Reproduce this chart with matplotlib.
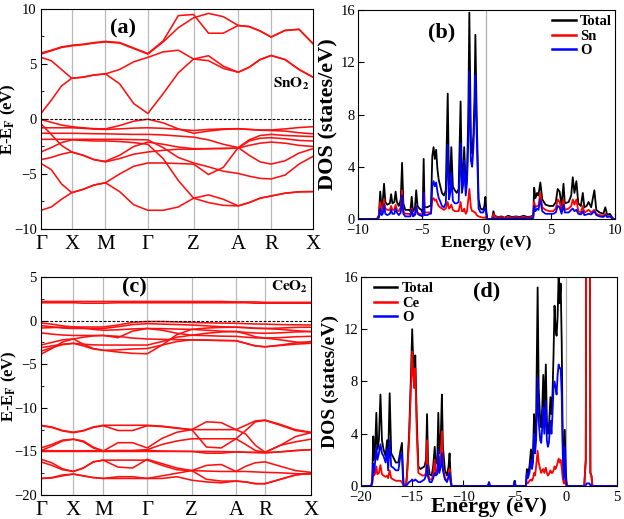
import numpy as np
import matplotlib
matplotlib.use("Agg")
import matplotlib.pyplot as plt

plt.rcParams["font.family"] = ["Liberation Serif", "DejaVu Serif"]
plt.rcParams["mathtext.fontset"] = "stix"
plt.rcParams["xtick.direction"] = "in"
plt.rcParams["ytick.direction"] = "in"

# ---------------- band structure data ----------------
# k-path labels and positions (fraction of path length)
klabels = ["Γ", "X", "M", "Γ", "Z", "A", "R", "X"]
kpos_sno2 = [0.0, 0.113, 0.237, 0.393, 0.561, 0.725, 0.846, 1.0]
kpos_ceo2 = [0.0, 0.120, 0.231, 0.394, 0.559, 0.723, 0.831, 1.0]

# energies at Γ,1/3,2/3,X,1/3,2/3,M,... (22 nodes along the path)
sno2_bands = [
    # conduction
    [0.5, 1.7, 3.0, 3.7, 3.8, 4.0, 4.1, 3.2, 1.4, 0.5, 2.3, 4.2, 5.45, 5.3, 4.6, 4.25, 4.7, 5.4, 5.77, 5.4, 4.5, 3.8],
    [5.6, 5.3, 4.5, 3.7, 3.8, 4.0, 4.1, 4.5, 5.2, 5.6, 6.1, 6.25, 5.45, 5.75, 4.8, 4.25, 4.7, 5.4, 5.77, 5.4, 4.5, 3.8],
    [5.9, 6.2, 6.5, 6.65, 6.75, 6.9, 7.0, 6.9, 6.4, 5.9, 7.0, 8.3, 9.2, 9.6, 9.3, 8.5, 8.4, 8.0, 7.45, 8.05, 8.15, 6.85],
    [6.0, 6.25, 6.55, 6.7, 6.8, 6.95, 7.05, 6.95, 6.45, 5.95, 7.1, 9.4, 9.5, 7.8, 7.8, 8.5, 8.4, 8.0, 7.45, 8.05, 8.15, 6.85],
    # valence
    [-0.05, -0.3, -0.55, -0.7, -0.8, -0.88, -0.9, -0.6, -0.2, -0.02, -0.35, -0.9, -1.3, -1.1, -0.95, -0.9, -0.95, -1.0, -1.0, -0.9, -0.78, -0.7],
    [-0.8, -0.8, -0.8, -0.8, -0.85, -0.92, -0.95, -0.9, -0.83, -0.8, -0.85, -0.95, -1.05, -0.95, -0.9, -0.88, -0.95, -1.02, -1.05, -1.1, -1.25, -1.35],
    [-1.3, -1.3, -1.3, -1.3, -1.32, -1.34, -1.35, -1.38, -1.4, -1.4, -1.45, -1.55, -1.65, -1.9, -2.3, -2.6, -3.3, -3.9, -4.1, -3.8, -3.1, -2.7],
    [-0.45, -1.4, -2.4, -3.0, -3.3, -3.7, -3.85, -3.3, -2.5, -2.1, -2.3, -2.55, -2.7, -2.7, -2.68, -2.65, -2.4, -2.2, -2.1, -2.2, -2.4, -2.5],
    [-1.85, -1.85, -1.85, -1.85, -1.85, -1.85, -1.85, -1.85, -1.88, -1.9, -2.6, -3.5, -4.0, -4.35, -4.75, -4.95, -5.2, -5.4, -5.45, -5.1, -4.1, -3.4],
    [-3.0, -2.6, -2.15, -1.9, -1.95, -2.0, -2.0, -2.05, -2.15, -2.3, -3.6, -5.6, -7.2, -6.9, -7.3, -7.9, -7.6, -7.2, -7.0, -6.75, -6.62, -6.6],
    [-3.7, -3.5, -3.2, -3.0, -3.3, -3.7, -3.9, -3.6, -3.2, -3.0, -2.85, -2.75, -2.75, -2.7, -2.68, -2.65, -2.0, -1.75, -1.7, -1.8, -1.95, -2.0],
    [-4.05, -4.6, -5.9, -6.7, -6.4, -6.0, -5.8, -5.0, -4.3, -4.0, -4.0, -4.05, -4.1, -5.05, -4.4, -2.6, -1.9, -1.5, -1.4, -1.5, -1.55, -1.6],
    [-8.3, -8.0, -7.3, -6.7, -6.4, -6.0, -5.8, -6.6, -7.8, -8.3, -8.3, -8.0, -7.2, -7.6, -7.85, -7.9, -7.6, -7.2, -7.0, -6.75, -6.62, -6.6],
]

ceo2_bands = [
    # Ce 4f
    [2.2, 2.2, 2.2, 2.2, 2.2, 2.2, 2.2, 2.2, 2.2, 2.2, 2.2, 2.2, 2.2, 2.2, 2.2, 2.15, 2.15, 2.15, 2.1, 2.1, 2.1, 2.1],
    [2.05, 2.05, 2.05, 2.05, 2.0, 2.0, 2.0, 2.05, 2.05, 2.05, 2.05, 2.05, 2.05, 2.05, 2.05, 2.05, 2.05, 2.0, 2.0, 2.0, 2.0, 2.0],
    # O 2p
    [-0.27, -0.4, -0.6, -0.73, -0.73, -0.73, -0.73, -0.5, -0.2, -0.1, -0.1, -0.15, -0.2, -0.25, -0.28, -0.3, -0.35, -0.38, -0.4, -0.45, -0.48, -0.5],
    [-0.57, -0.7, -0.85, -0.9, -0.9, -0.9, -0.9, -0.7, -0.45, -0.35, -0.4, -0.45, -0.5, -0.6, -0.7, -0.75, -0.8, -0.88, -0.9, -0.85, -0.78, -0.75],
    [-0.84, -0.8, -0.75, -0.73, -0.85, -1.0, -1.1, -1.05, -0.95, -0.9, -0.92, -0.97, -1.0, -1.1, -1.2, -1.25, -1.35, -1.42, -1.45, -1.4, -1.3, -1.25],
    [-1.4, -1.55, -1.65, -1.7, -1.7, -1.7, -1.7, -1.95, -1.2, -0.9, -1.1, -1.45, -1.67, -1.72, -1.78, -1.8, -1.9, -1.97, -2.0, -1.95, -1.85, -1.8],
    [-2.8, -2.5, -2.2, -2.1, -1.9, -1.75, -1.7, -1.8, -2.0, -2.1, -2.15, -2.18, -2.2, -2.25, -2.28, -2.3, -2.6, -2.9, -3.0, -2.8, -2.55, -2.4],
    [-3.1, -2.9, -2.7, -2.6, -2.7, -2.78, -2.8, -2.8, -2.8, -2.8, -2.4, -1.9, -1.67, -1.45, -1.3, -1.25, -1.5, -1.85, -2.0, -2.2, -2.45, -2.6],
    [-3.5, -3.1, -2.75, -2.6, -2.9, -3.25, -3.4, -3.35, -3.25, -3.2, -2.8, -2.4, -2.2, -2.22, -2.27, -2.3, -2.6, -2.9, -3.0, -2.85, -2.7, -2.6],
    [-3.85, -3.2, -2.45, -2.1, -2.7, -3.2, -3.4, -3.6, -3.75, -3.8, -2.8, -1.6, -1.0, -0.85, -0.78, -0.75, -0.8, -0.87, -0.9, -1.0, -1.15, -1.25],
    # semicore
    [-12.0, -12.2, -12.6, -12.8, -12.6, -12.2, -12.0, -12.0, -12.0, -12.0, -12.1, -12.3, -12.5, -12.5, -12.5, -12.5, -12.0, -11.5, -11.4, -11.9, -12.5, -12.8],
    [-12.05, -12.25, -12.65, -12.85, -12.65, -12.25, -12.05, -12.6, -12.6, -12.05, -12.15, -12.35, -12.5, -11.6, -11.7, -12.5, -13.0, -14.3, -15.1, -14.3, -13.3, -12.85],
    [-14.6, -14.2, -13.7, -13.6, -13.8, -14.5, -14.95, -14.0, -14.0, -14.6, -13.5, -12.8, -12.5, -14.5, -14.6, -13.55, -12.6, -11.6, -11.45, -12.0, -12.6, -12.85],
    [-14.9, -14.4, -13.8, -13.6, -13.9, -14.6, -14.95, -14.9, -14.9, -14.8, -14.2, -13.8, -13.55, -13.55, -13.55, -13.55, -14.2, -14.9, -15.1, -14.3, -13.9, -13.6],
    [-15.0, -15.0, -15.0, -15.0, -15.0, -15.0, -15.0, -15.0, -15.0, -15.0, -15.0, -15.0, -15.0, -15.0, -15.02, -15.05, -15.1, -15.12, -15.15, -15.05, -14.9, -14.8],
    [-14.9, -14.92, -14.92, -14.92, -14.92, -14.92, -14.92, -14.92, -14.92, -14.9, -14.95, -14.98, -15.0, -15.2, -15.2, -15.05, -15.1, -15.12, -15.15, -15.05, -14.9, -14.8],
    [-15.9, -16.3, -17.0, -17.3, -16.9, -16.2, -16.0, -16.0, -16.0, -16.0, -16.6, -17.1, -17.2, -16.6, -16.5, -17.3, -16.7, -16.3, -16.2, -16.7, -17.2, -17.4],
    [-16.2, -16.6, -17.1, -17.3, -16.9, -16.2, -16.0, -16.8, -16.9, -15.9, -16.4, -16.9, -17.2, -17.25, -17.3, -17.3, -17.3, -17.35, -17.4, -17.45, -17.55, -17.6],
    [-18.1, -18.0, -17.7, -17.6, -17.8, -18.0, -18.1, -17.9, -17.9, -18.1, -18.1, -17.9, -18.3, -18.5, -18.6, -18.4, -18.5, -18.7, -18.7, -18.2, -17.7, -17.5],
    [-18.1, -18.05, -17.8, -17.6, -17.8, -18.0, -18.1, -18.1, -18.1, -18.1, -17.8, -17.5, -17.2, -18.2, -18.4, -18.4, -18.5, -18.7, -18.7, -18.2, -17.7, -17.5],
]

# ---------------- DOS data ----------------
e_sno2 = [-10.0, -8.5, -8.35, -8.25, -8.15, -8.05, -7.95, -7.85, -7.7, -7.5, -7.4, -7.3, -7.15, -7.05, -6.95,
          -6.8, -6.65, -6.55, -6.45, -6.3, -6.0, -5.9, -5.8, -5.7, -5.55, -5.45, -5.35, -5.2, -5.05, -4.95,
          -4.87, -4.8, -4.6, -4.4, -4.3, -4.2, -4.1, -4.0, -3.9, -3.8, -3.7, -3.6, -3.45, -3.3, -3.15,
          -3.0, -2.9, -2.8, -2.72, -2.6, -2.45, -2.3, -2.15, -2.0, -1.9, -1.8, -1.72, -1.6, -1.5, -1.4,
          -1.32, -1.2, -1.1, -1.0, -0.92, -0.85, -0.75, -0.6, -0.45, -0.25, -0.15, -0.07, 0.0, 0.08, 0.45,
          0.55, 0.65, 0.9, 1.2, 1.4, 1.7, 2.0, 2.3, 2.6, 2.9, 3.2, 3.5, 3.65, 3.72, 3.82,
          3.95, 4.05, 4.2, 4.35, 4.6, 4.9, 5.2, 5.4, 5.55, 5.7, 5.85, 6.0, 6.1, 6.4, 6.6,
          6.72, 6.85, 7.0, 7.15, 7.35, 7.5, 7.62, 7.8, 7.95, 8.15, 8.4, 8.55, 8.8, 9.1, 9.25,
          9.4, 9.6, 9.8, 9.9, 10.0]
tot_sno2 = [0, 0, 0.3, 2.1, 1.0, 1.4, 2.7, 1.3, 1.1, 1.2, 1.9, 1.2, 1.3, 2.1, 1.3,
            1.0, 1.5, 4.3, 1.2, 0.7, 0.7, 0.6, 1.7, 0.6, 0.8, 2.2, 1.0, 0.8, 0.7, 0.5,
            4.6, 0.9, 0.9, 1.0, 1.0, 4.8, 5.5, 4.6, 5.3, 3.8, 3.0, 2.6, 2.0, 1.8, 2.2,
            9.6, 2.6, 3.4, 5.5, 2.5, 2.2, 2.0, 2.3, 9.0, 2.8, 3.5, 5.5, 2.5, 3.5, 8.0,
            15.8, 6.0, 5.0, 6.5, 9.0, 14.1, 8.0, 1.5, 0.8, 0.7, 1.0, 1.7, 0.6, 0, 0,
            0.6, 0.25, 0.15, 0.2, 0.1, 0.25, 0.15, 0.2, 0.15, 0.25, 0.15, 0.2, 0.3, 2.4, 1.6,
            2.0, 1.8, 2.8, 1.5, 1.1, 1.0, 1.0, 1.3, 2.3, 2.1, 1.0, 2.7, 1.2, 1.3, 1.8,
            3.2, 2.0, 2.9, 1.2, 1.0, 2.0, 0.9, 1.0, 1.3, 0.9, 2.2, 0.7, 0.5, 0.4, 0.9,
            0.3, 0.4, 0.1, 0, 0]
sn_sno2 = [0, 0, 0.2, 1.3, 0.6, 0.9, 1.5, 0.8, 0.7, 0.7, 1.0, 0.7, 0.7, 1.1, 0.7,
           0.6, 0.9, 2.2, 0.6, 0.4, 0.4, 0.35, 0.8, 0.3, 0.4, 1.0, 0.5, 0.4, 0.35, 0.3,
           2.0, 0.5, 0.5, 0.5, 0.5, 1.5, 1.6, 1.4, 1.5, 1.2, 1.0, 0.9, 0.8, 0.7, 0.8,
           1.3, 0.8, 0.9, 1.1, 0.7, 0.6, 0.6, 0.6, 1.3, 0.6, 0.6, 0.8, 0.4, 0.6, 1.5,
           2.3, 0.9, 0.6, 0.6, 0.5, 0.5, 0.3, 0.2, 0.15, 0.1, 0.1, 0.15, 0.05, 0, 0,
           0.4, 0.2, 0.12, 0.15, 0.08, 0.18, 0.1, 0.15, 0.1, 0.17, 0.1, 0.15, 0.2, 1.3, 0.9,
           1.0, 1.0, 2.0, 0.9, 0.7, 0.6, 0.6, 0.8, 1.5, 1.3, 0.6, 1.5, 0.7, 0.8, 1.0,
           1.5, 1.1, 1.5, 0.6, 0.5, 1.0, 0.5, 0.6, 0.7, 0.5, 0.7, 0.4, 0.3, 0.25, 0.4,
           0.2, 0.2, 0.05, 0, 0]
o_sno2 = [0, 0, 0.1, 0.8, 0.3, 0.4, 1.1, 0.4, 0.3, 0.4, 0.7, 0.4, 0.4, 0.8, 0.5,
          0.3, 0.5, 1.8, 0.4, 0.2, 0.2, 0.2, 0.7, 0.2, 0.3, 1.0, 0.4, 0.3, 0.25, 0.2,
          2.0, 0.3, 0.3, 0.4, 0.4, 2.5, 2.9, 2.5, 2.8, 2.1, 1.6, 1.4, 1.0, 0.9, 1.2,
          5.7, 1.5, 2.0, 3.5, 1.4, 1.2, 1.2, 1.3, 5.8, 2.0, 2.6, 4.5, 1.8, 2.8, 6.0,
          11.3, 4.5, 4.0, 5.5, 8.0, 11.0, 6.5, 0.8, 0.5, 0.5, 0.7, 0.9, 0.3, 0, 0,
          0.1, 0.05, 0.03, 0.05, 0.02, 0.05, 0.04, 0.05, 0.04, 0.06, 0.04, 0.05, 0.07, 1.0, 0.6,
          0.8, 0.7, 1.5, 0.6, 0.4, 0.4, 0.4, 0.5, 1.0, 0.9, 0.4, 1.1, 0.5, 0.5, 0.7,
          0.8, 0.6, 0.7, 0.4, 0.35, 0.6, 0.3, 0.35, 0.4, 0.35, 0.6, 0.3, 0.2, 0.15, 0.3,
          0.15, 0.2, 0.05, 0, 0]

e_ceo2 = [-20.0, -19.0, -18.9, -18.8, -18.72, -18.6, -18.5, -18.4, -18.25, -18.1, -17.95, -17.8, -17.6, -17.45, -17.35,
          -17.2, -17.05, -16.85, -16.6, -16.35, -16.15, -16.0, -15.9, -15.82, -15.6, -15.5, -15.3, -15.1, -15.0, -14.9,
          -14.8, -14.7, -14.55, -14.4, -14.2, -14.0, -13.8, -13.65, -13.55, -13.45, -13.3, -13.1, -12.95, -12.8, -12.7,
          -12.55, -12.45, -12.35, -12.2, -12.1, -12.0, -11.8, -11.6, -11.45, -11.35, -11.25, -11.15, -7.6, -7.5, -7.4,
          -5.1, -5.0, -4.9, -3.9, -3.8, -3.7, -3.55, -3.4, -3.3, -3.2, -3.1, -3.0, -2.9, -2.75, -2.65,
          -2.5, -2.4, -2.3, -2.2, -2.1, -1.95, -1.85, -1.75, -1.65, -1.5, -1.4, -1.3, -1.2, -1.1, -1.0,
          -0.9, -0.8, -0.7, -0.6, -0.5, -0.4, -0.3, -0.2, -0.1, 0.0, 0.1, 1.8, 1.95, 2.05, 2.3,
          2.4, 2.5, 2.6, 5.0]
tot_ceo2 = [0, 0, 0.5, 3.8, 2.0, 3.2, 5.6, 2.8, 3.5, 7.0, 3.5, 2.8, 2.3, 3.5, 2.0,
            7.1, 2.5, 2.2, 1.8, 1.8, 2.7, 3.3, 1.0, 0, 0, 1.0, 4.0, 9.0, 12.0, 9.5,
            8.0, 10.0, 5.0, 1.5, 1.3, 1.4, 1.5, 2.0, 5.5, 1.8, 0.9, 0.8, 1.5, 3.0, 1.7,
            2.0, 5.6, 2.5, 4.0, 7.0, 3.0, 1.2, 0.8, 1.5, 2.5, 0.8, 0, 0, 0.3, 0,
            0, 0.4, 0, 0, 1.3, 0.8, 1.5, 2.8, 1.8, 2.5, 5.5, 3.5, 5.0, 15.2, 7.5,
            5.0, 4.5, 6.0, 8.5, 5.5, 9.3, 5.0, 4.0, 4.5, 6.8, 5.5, 7.0, 10.0, 13.8, 12.0,
            11.5, 13.0, 16.2, 14.0, 15.5, 11.0, 3.5, 0.8, 4.3, 1.0, 0, 0, 2.0, 40, 40,
            1.0, 0.8, 0, 0]
ce_ceo2 = [0, 0, 0.2, 1.0, 0.8, 1.0, 1.5, 0.9, 1.0, 1.6, 0.9, 0.8, 0.7, 0.8, 0.6,
           1.2, 0.6, 0.5, 0.4, 0.4, 0.4, 0.3, 0.1, 0, 0, 0.8, 3.5, 8.0, 10.3, 8.5,
           7.5, 9.0, 4.0, 1.0, 0.9, 0.8, 0.8, 1.0, 3.5, 0.9, 0.5, 0.5, 0.8, 2.0, 0.9,
           1.2, 2.3, 1.5, 2.5, 4.2, 1.5, 0.6, 0.4, 0.7, 1.3, 0.4, 0, 0, 0.05, 0,
           0, 0.05, 0, 0, 0.3, 0.2, 0.4, 0.5, 0.4, 0.6, 1.0, 0.8, 1.5, 2.7, 1.8,
           1.3, 1.0, 1.2, 1.3, 1.0, 1.4, 1.0, 0.8, 0.9, 1.2, 1.0, 1.0, 1.2, 1.5, 1.3,
           1.5, 1.8, 2.1, 1.8, 2.0, 1.4, 0.6, 0.2, 0.4, 0.1, 0, 0, 2.0, 40, 40,
           1.0, 0.8, 0, 0]
o_ceo2 = [0, 0, 0.3, 1.7, 1.0, 2.0, 3.0, 2.0, 2.5, 3.2, 2.5, 2.3, 1.8, 2.8, 1.2,
          3.5, 1.5, 1.4, 1.2, 1.2, 2.3, 2.5, 0.5, 0, 0, 0.1, 0.3, 0.4, 0.5, 0.4,
          0.4, 0.5, 0.4, 0.3, 0.3, 0.4, 0.5, 0.8, 1.6, 0.7, 0.3, 0.3, 0.6, 1.0, 0.8,
          0.9, 2.8, 1.0, 1.5, 2.5, 1.2, 0.5, 0.3, 0.7, 1.0, 0.3, 0, 0, 0.25, 0,
          0, 0.35, 0, 0, 1.0, 0.6, 1.0, 2.0, 1.3, 1.8, 4.0, 2.5, 3.5, 8.3, 5.0,
          3.5, 3.3, 4.5, 6.0, 4.0, 6.5, 3.5, 3.0, 3.3, 5.0, 4.0, 5.5, 7.5, 8.0, 7.5,
          7.0, 8.5, 9.3, 9.0, 9.0, 7.0, 2.5, 0.5, 3.0, 0.5, 0, 0, 0.05, 0.2, 0.2,
          0.05, 0.05, 0, 0]

BAND_RED = "#ff1010"


def kgrid(kpos):
    # high-symmetry points plus two intermediate nodes per segment
    pts = [kpos[0]]
    for a, b in zip(kpos[:-1], kpos[1:]):
        pts += [a + (b - a) / 3, a + 2 * (b - a) / 3, b]
    return pts


def band_panel(ax, kpos, bands, ylim, yticks, label, formula, label_xy, formula_xy):
    k = kgrid(kpos)
    for x in kpos[1:-1]:
        ax.axvline(x, color="#b8b8b8", lw=0.9, zorder=0)
    for b in bands:
        ax.plot(k, b, color=BAND_RED, lw=1.15)
    ax.axhline(0, color="k", ls=(0, (2.5, 1.5)), lw=0.8)
    ax.set_xlim(0, 1)
    ax.set_ylim(*ylim)
    ax.set_xticks(kpos)
    ax.set_xticklabels(klabels, fontsize=15)
    ax.tick_params(axis="x", length=0, pad=4)
    ax.set_yticks(yticks)
    ax.set_yticks(np.arange(ylim[0], ylim[1] + 0.1, 2.5), minor=True)
    ax.tick_params(axis="y", labelsize=10.5, length=4, width=0.8, pad=3)
    ax.tick_params(axis="y", which="minor", length=2.5)
    ax.set_ylabel(r"E-E$_\mathbf{F}$ (eV)", fontsize=12, fontweight="bold")
    ax.yaxis.set_label_coords(-0.083, 0.5)
    ax.text(*label_xy, label, fontsize=16, fontweight="bold", ha="center", va="center")
    ax.text(*formula_xy, formula, fontsize=11, ha="right", va="center")


def dos_panel(ax, e, tot, ce, o, names, xlim, xticks, label, label_xy,
              legend_loc, legend_anchor, xlab_size, xlab_y, ylab_size, ylab_x):
    ax.axvline(0, color="#b0b0b0", lw=0.9, zorder=0)
    ax.plot(e, tot, color="k", lw=1.3, label=names[0])
    ax.plot(e, ce, color="#ff0000", lw=1.3, label=names[1])
    ax.plot(e, o, color="#0000ff", lw=1.3, label=names[2])
    ax.set_xlim(*xlim)
    ax.set_ylim(0, 16)
    ax.set_xticks(xticks)
    ax.set_yticks([0, 4, 8, 12, 16])
    ax.tick_params(labelsize=10.5, length=4, width=0.8)
    ax.tick_params(axis="y", pad=2)
    ax.set_xlabel("Energy (eV)", fontsize=xlab_size, fontweight="bold")
    ax.xaxis.set_label_coords(0.5, xlab_y)
    ax.set_ylabel("DOS (states/eV)", fontsize=ylab_size, fontweight="bold")
    ax.yaxis.set_label_coords(ylab_x, 0.5)
    ax.text(*label_xy, label, fontsize=16, fontweight="bold", ha="center", va="center")
    leg = ax.legend(loc=legend_loc, bbox_to_anchor=legend_anchor, frameon=False,
                    handlelength=1.6, handletextpad=0.3, labelspacing=0.1,
                    prop={"weight": "bold", "size": 10.5})
    for line in leg.get_lines():
        line.set_linewidth(1.8)


fig = plt.figure(figsize=(6.24, 5.19), dpi=100)
ax_a = fig.add_axes([0.0657, 0.5588, 0.4359, 0.4239])
ax_b = fig.add_axes([0.5732, 0.5780, 0.4123, 0.4027])
ax_c = fig.add_axes([0.0657, 0.0462, 0.4322, 0.4200])
ax_d = fig.add_axes([0.5785, 0.0636, 0.4103, 0.4027])

band_panel(ax_a, kpos_sno2, sno2_bands, (-10, 10), [-10, -5, 0, 5, 10], "(a)",
           r"$\mathbf{SnO_2}$", (0.30, 8.2), (0.985, 3.2))
band_panel(ax_c, kpos_ceo2, ceo2_bands, (-20, 5), [-20, -15, -10, -5, 0, 5], "(c)",
           r"$\mathbf{CeO_2}$", (0.345, 3.8), (0.99, 3.85))

dos_panel(ax_b, e_sno2, tot_sno2, sn_sno2, o_sno2, ["Total", "Sn", "O"], (-10, 10),
          [-10, -5, 0, 5, 10], "(b)", (-3.45, 14.3), "upper right", (1.04, 1.04),
          12.5, -0.075, 16, -0.076)
dos_panel(ax_d, e_ceo2, tot_ceo2, ce_ceo2, o_ceo2, ["Total", "Ce", "O"], (-20, 5),
          [-20, -15, -10, -5, 0, 5], "(d)", (-7.7, 14.9), "upper left", (0.0, 1.04),
          16, -0.052, 14, -0.087)

fig.savefig("out.png", dpi=100)
